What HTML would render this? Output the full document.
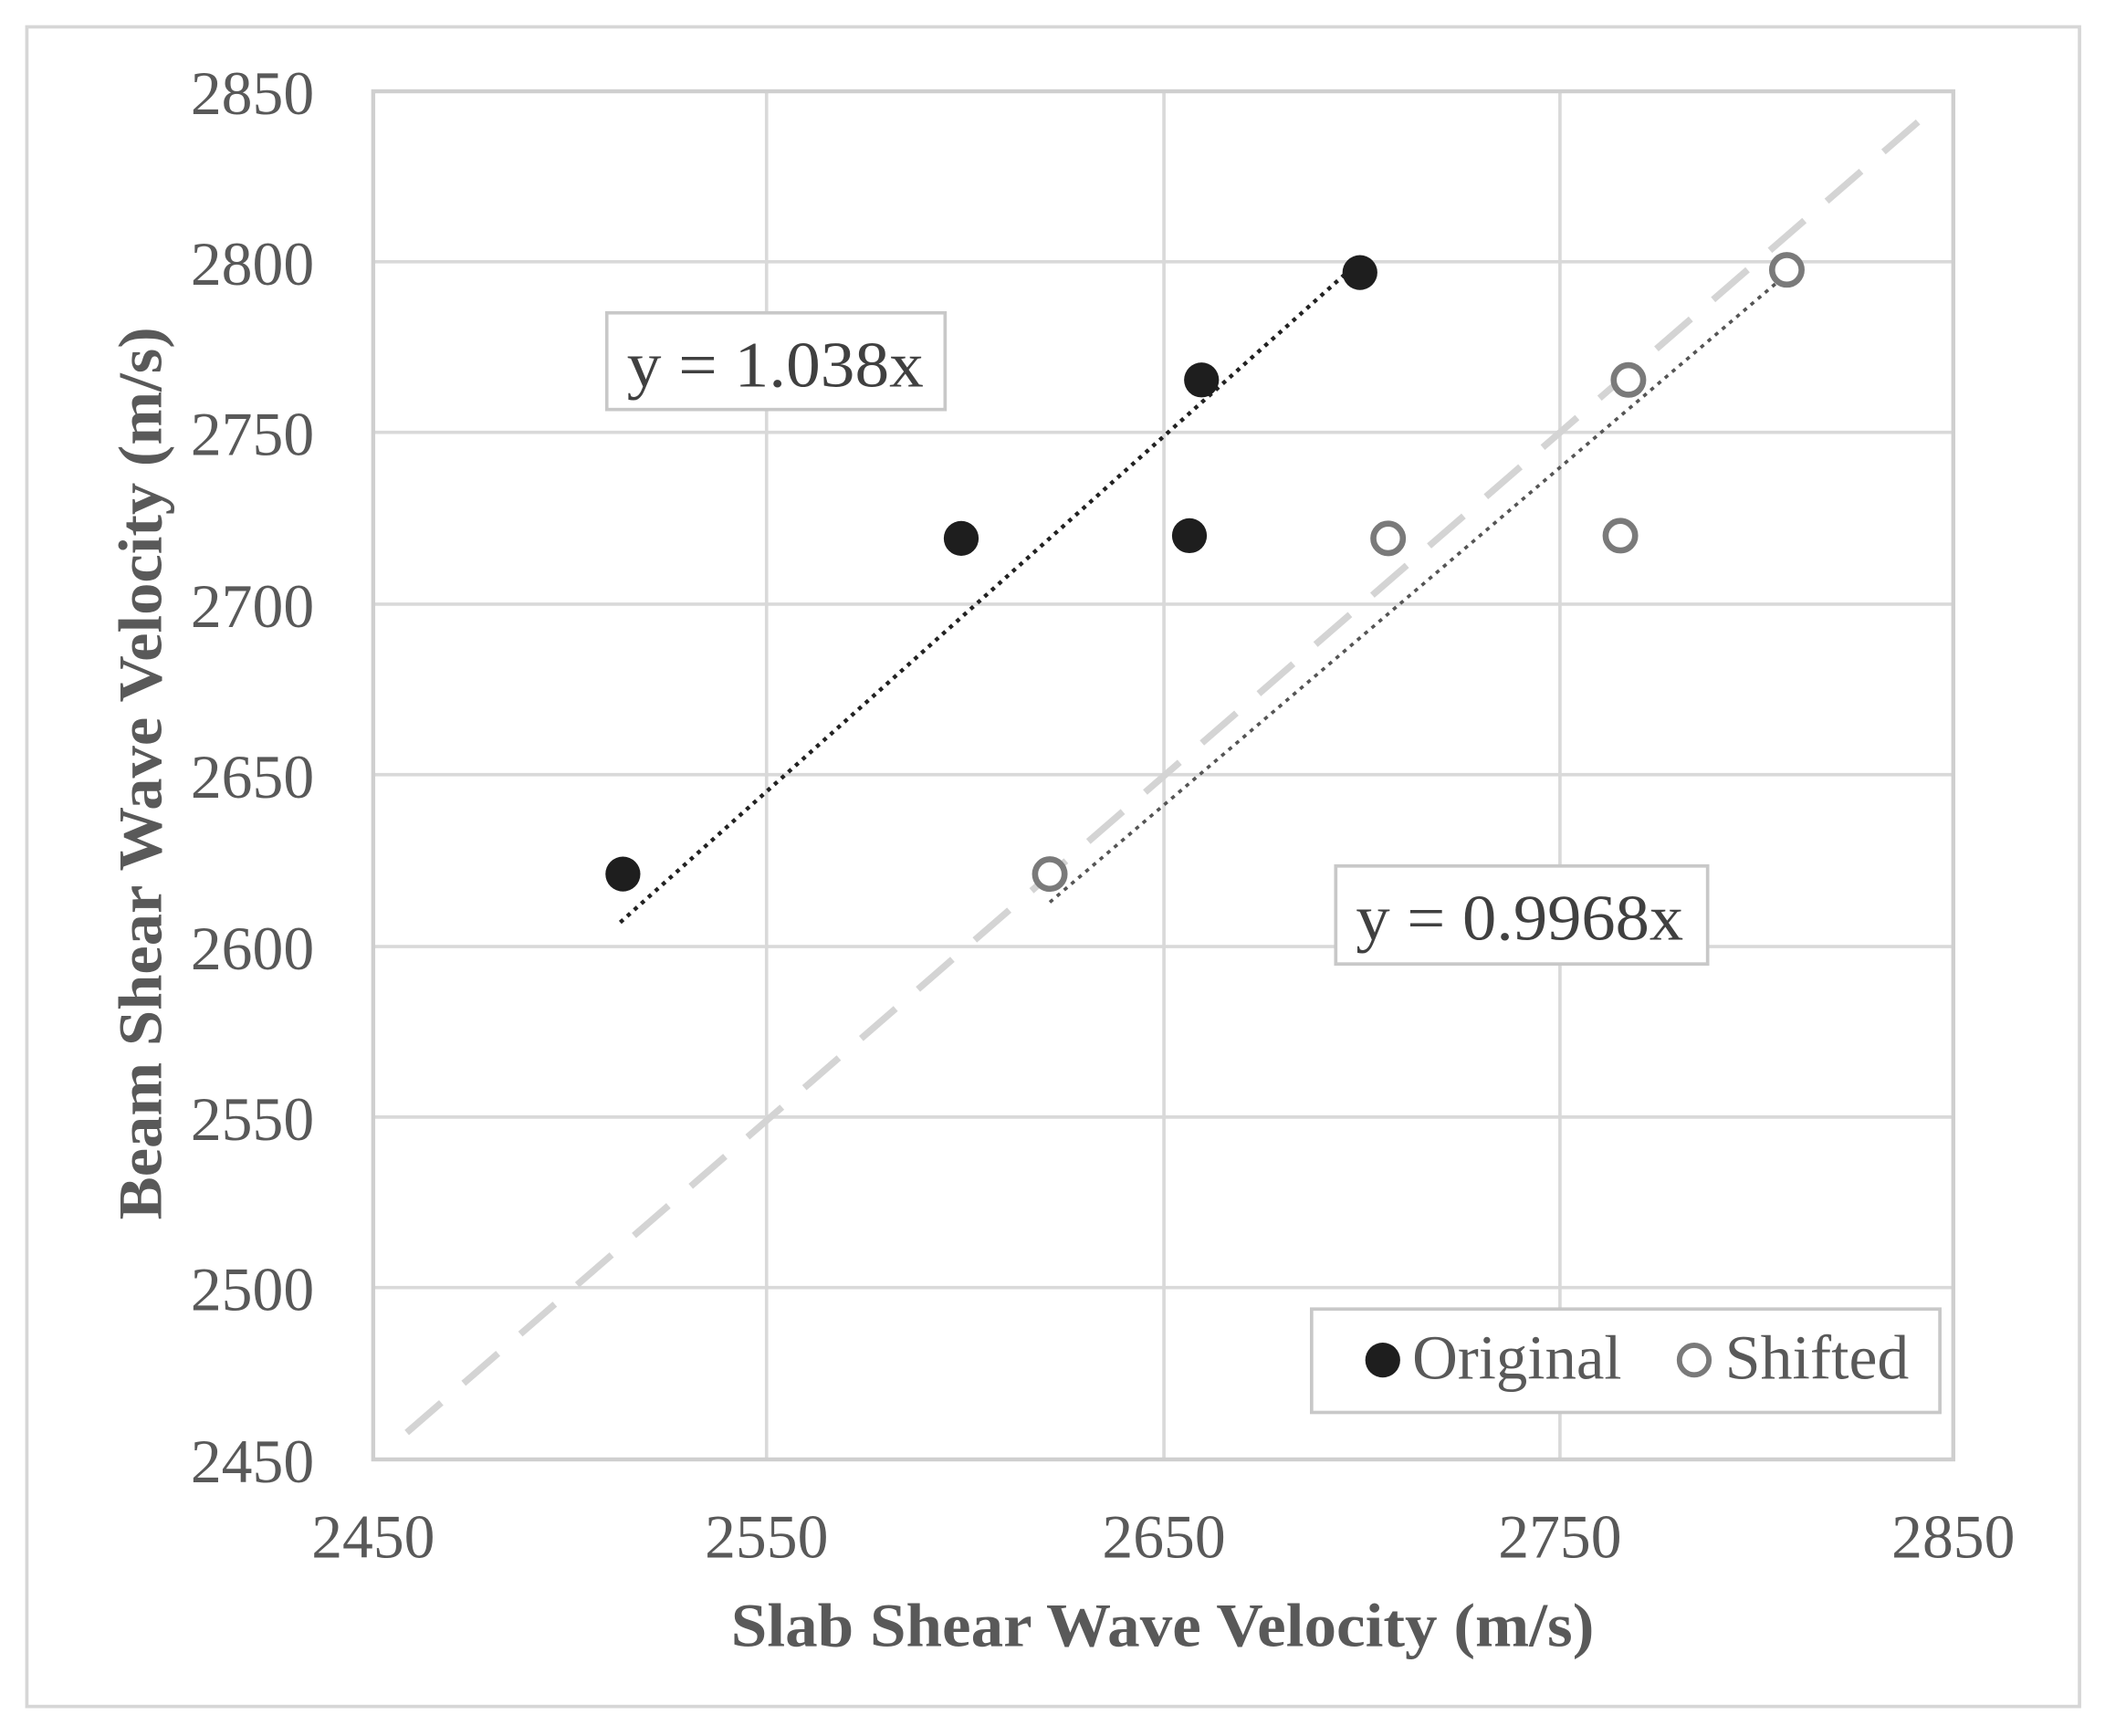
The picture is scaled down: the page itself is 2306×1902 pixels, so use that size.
<!DOCTYPE html>
<html><head><meta charset="utf-8"><style>html,body{margin:0;padding:0;background:#fff}svg{display:block}</style></head>
<body>
<svg width="2306" height="1902" viewBox="0 0 1568 1293" preserveAspectRatio="none" xmlns="http://www.w3.org/2000/svg" font-family="Liberation Serif, serif">
<rect x="0" y="0" width="1568" height="1293" fill="#fff"/>
<rect x="20" y="20" width="1529" height="1251" fill="none" stroke="#d6d6d6" stroke-width="2.5"/>
<g stroke="#d9d9d9" stroke-width="2.5">
<line x1="571" y1="68" x2="571" y2="1087"/><line x1="867" y1="68" x2="867" y2="1087"/><line x1="1162" y1="68" x2="1162" y2="1087"/>
<line x1="278" y1="195" x2="1455" y2="195"/><line x1="278" y1="322" x2="1455" y2="322"/><line x1="278" y1="450" x2="1455" y2="450"/>
<line x1="278" y1="577" x2="1455" y2="577"/><line x1="278" y1="705" x2="1455" y2="705"/><line x1="278" y1="832" x2="1455" y2="832"/><line x1="278" y1="959" x2="1455" y2="959"/>
</g>
<rect x="278" y="68" width="1177" height="1019" fill="none" stroke="#cfcfcf" stroke-width="3"/>
<g font-size="46" fill="#595959" text-anchor="end">
<text x="234" y="85">2850</text><text x="234" y="212">2800</text><text x="234" y="339">2750</text><text x="234" y="467">2700</text>
<text x="234" y="594">2650</text><text x="234" y="722">2600</text><text x="234" y="849">2550</text><text x="234" y="976">2500</text><text x="234" y="1104">2450</text>
</g>
<g font-size="46" fill="#595959" text-anchor="middle">
<text x="278" y="1160">2450</text><text x="571" y="1160">2550</text><text x="867" y="1160">2650</text><text x="1162" y="1160">2750</text><text x="1455" y="1160">2850</text>
</g>
<text x="866" y="1226" font-size="46" font-weight="bold" fill="#595959" text-anchor="middle" textLength="643" lengthAdjust="spacingAndGlyphs">Slab Shear Wave Velocity (m/s)</text>
<text transform="translate(120,576) rotate(-90)" font-size="46" font-weight="bold" fill="#595959" text-anchor="middle" textLength="665" lengthAdjust="spacingAndGlyphs">Beam Shear Wave Velocity (m/s)</text>
<line x1="303" y1="1067" x2="1432" y2="88" stroke="#d4d4d4" stroke-width="5" stroke-dasharray="34,22"/>
<line x1="462" y1="687" x2="1010" y2="197" stroke="#222" stroke-width="3" stroke-dasharray="3,4"/>
<line x1="782" y1="672" x2="1330" y2="205" stroke="#555" stroke-width="2.5" stroke-dasharray="3,4"/>
<g fill="#1e1e1e">
<circle cx="464" cy="651" r="13"/><circle cx="716" cy="401" r="13"/><circle cx="886" cy="399" r="13"/><circle cx="895" cy="283" r="13"/><circle cx="1013" cy="203" r="13"/>
</g>
<g fill="#fff" stroke="#7a7a7a" stroke-width="4.5">
<circle cx="782" cy="651" r="11"/><circle cx="1034" cy="401" r="11"/><circle cx="1207" cy="399" r="11"/><circle cx="1213" cy="283" r="11"/><circle cx="1331" cy="201" r="11"/>
</g>
<rect x="452" y="233" width="252" height="72" fill="#fff" stroke="#c8c8c8" stroke-width="2.5"/>
<text x="467" y="288" font-size="48" fill="#404040" textLength="221" lengthAdjust="spacingAndGlyphs">y = 1.038x</text>
<rect x="995" y="645" width="277" height="73" fill="#fff" stroke="#c8c8c8" stroke-width="2.5"/>
<text x="1010" y="700" font-size="48" fill="#404040" textLength="244" lengthAdjust="spacingAndGlyphs">y = 0.9968x</text>
<rect x="977" y="975" width="468" height="77" fill="#fff" stroke="#c8c8c8" stroke-width="2.5"/>
<circle cx="1030" cy="1013" r="13" fill="#1e1e1e"/>
<text x="1052" y="1027" font-size="47" fill="#595959" textLength="156" lengthAdjust="spacingAndGlyphs">Original</text>
<circle cx="1262" cy="1013" r="11" fill="#fff" stroke="#7a7a7a" stroke-width="4"/>
<text x="1285" y="1027" font-size="47" fill="#595959" textLength="137" lengthAdjust="spacingAndGlyphs">Shifted</text>
</svg>
</body></html>
